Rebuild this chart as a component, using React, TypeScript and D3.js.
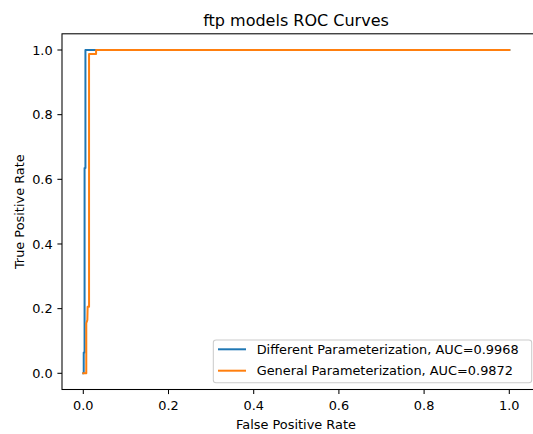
import React from "react";
import * as d3 from "d3";

const xTicks = [0, 0.2, 0.4, 0.6, 0.8, 1.0];
const yTicks = [0, 0.2, 0.4, 0.6, 0.8, 1.0];

const diffFPR = [0, 0.001, 0.001, 0.003, 0.003, 0.005, 0.005, 1];
const diffTPR = [0, 0, 0.064, 0.064, 0.635, 0.635, 1, 1];

const genFPR = [0, 0.007, 0.007, 0.0095, 0.0102, 0.0135, 0.0135, 0.03, 0.03, 1];
const genTPR = [0, 0, 0.155, 0.165, 0.206, 0.206, 0.988, 0.988, 1, 1];

const seriesNames = [
  "Different Parameterization, AUC=0.9968",
  "General Parameterization, AUC=0.9872",
];
const seriesColors = ["#1f77b4", "#ff7f0e"];

const W = 533;
const H = 434;
const left = 62;
const right = 539;
const top = 33.8;
const bottom = 389.5;

export default function App() {
  const x = d3.scaleLinear().domain([0, 1]).range([83.3, 509.3]);
  const y = d3.scaleLinear().domain([0, 1]).range([373.3, 50]);
  const line = d3
    .line<[number, number]>()
    .x((d) => x(d[0]))
    .y((d) => y(d[1]));
  const series = [
    diffFPR.map((v, i) => [v, diffTPR[i]] as [number, number]),
    genFPR.map((v, i) => [v, genTPR[i]] as [number, number]),
  ];
  const font = "DejaVu Sans, sans-serif";
  const fs = 12.9;
  const legX = 213.3;
  const legY = 340;
  const legW = 318.4;
  const legH = 42.7;
  return (
    <svg
      width={W}
      height={H}
      style={{ position: "absolute", left: 0, top: 0, background: "#fff" }}
      fontFamily={font}
    >
      <rect x={0} y={0} width={W} height={H} fill="#fff" />
      <defs>
        <clipPath id="plot">
          <rect x={left} y={top} width={right - left} height={bottom - top} />
        </clipPath>
      </defs>
      <g clipPath="url(#plot)">
        {series.map((s, i) => (
          <path
            key={i}
            d={line(s) || ""}
            fill="none"
            stroke={seriesColors[i]}
            strokeWidth={2}
            strokeLinejoin="round"
            strokeLinecap="square"
          />
        ))}
      </g>
      <rect
        x={left}
        y={top}
        width={right - left}
        height={bottom - top}
        fill="none"
        stroke="#000"
        strokeWidth={1.05}
      />
      {xTicks.map((t) => (
        <g key={"x" + t}>
          <line x1={x(t)} x2={x(t)} y1={bottom} y2={bottom + 4.6} stroke="#000" strokeWidth={1.05} />
          <text x={x(t)} y={409.5} fontSize={fs} textAnchor="middle" fill="#000">
            {t.toFixed(1)}
          </text>
        </g>
      ))}
      {yTicks.map((t) => (
        <g key={"y" + t}>
          <line x1={left} x2={left - 4.6} y1={y(t)} y2={y(t)} stroke="#000" strokeWidth={1.05} />
          <text
            x={52.7}
            y={y(t)}
            dy="0.36em"
            fontSize={fs}
            textAnchor="end"
            fill="#000"
          >
            {t.toFixed(1)}
          </text>
        </g>
      ))}
      <text x={296} y={25.5} fontSize={16} textAnchor="middle" fill="#000">
        ftp models ROC Curves
      </text>
      <text x={296} y={429} fontSize={fs} textAnchor="middle" fill="#000">
        False Positive Rate
      </text>
      <text
        transform={`translate(23.5,211.7) rotate(-90)`}
        fontSize={fs}
        textAnchor="middle"
        fill="#000"
      >
        True Positive Rate
      </text>
      <rect
        x={legX}
        y={legY}
        width={legW}
        height={legH}
        rx={2.8}
        fill="#fff"
        fillOpacity={0.8}
        stroke="#cccccc"
        strokeWidth={1.05}
      />
      {seriesNames.map((n, i) => {
        const cy = 349.3 + i * 21.4;
        return (
          <g key={n}>
            <line x1={218} x2={246} y1={cy} y2={cy} stroke={seriesColors[i]} strokeWidth={2} />
            <text x={256.7} y={cy} dy="0.36em" fontSize={fs} fill="#000">
              {n}
            </text>
          </g>
        );
      })}
    </svg>
  );
}
